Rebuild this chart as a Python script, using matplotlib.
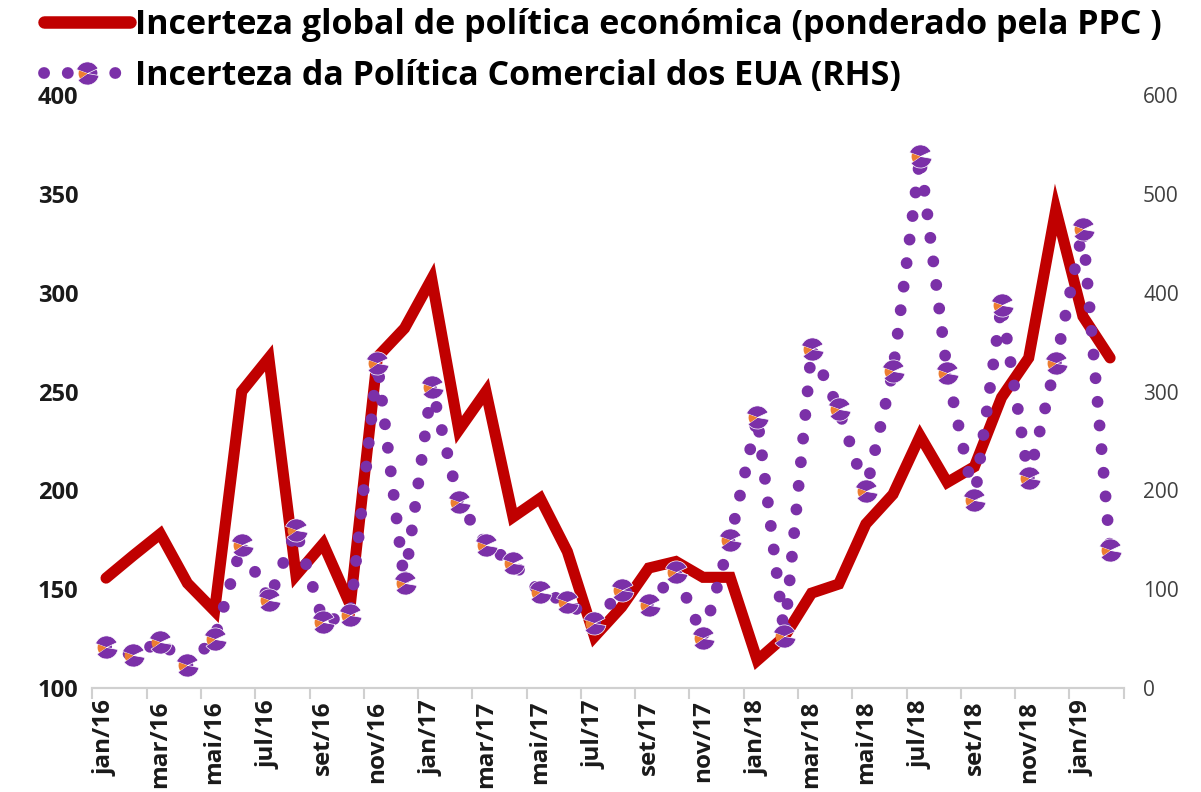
import numpy as np
import matplotlib.pyplot as plt
from matplotlib.path import Path
from matplotlib.legend_handler import HandlerTuple

# meses jan/16 .. fev/19
meses = ['jan', 'fev', 'mar', 'abr', 'mai', 'jun', 'jul', 'ago', 'set', 'out', 'nov', 'dez']
labels = [f'{m}/{a}' for a in ['16', '17', '18', '19'] for m in meses][:38]

# Incerteza global de política económica (eixo esquerdo)
gepu = [155.6, 167, 178, 153, 139, 250, 267, 157, 173, 142, 267.5, 282,
        307, 230.5, 250, 186.5, 196, 169, 126, 141, 160.7, 164, 156, 156,
        114, 126, 148, 152.6, 183, 198, 227.5, 204, 212, 247, 267, 342,
        288, 267]

# Incerteza da Política Comercial dos EUA (eixo direito)
tpu = [42, 33, 47, 23, 50, 145, 89, 160, 67, 74, 329, 106,
       305, 188, 145, 126, 97, 87, 66, 99, 84, 117, 51, 150,
       274, 53, 343, 282, 199, 321, 538, 319, 190, 388, 212, 329,
       464, 140]

nome1 = 'Incerteza global de política económica (ponderado pela PPC )'
nome2 = 'Incerteza da Política Comercial dos EUA (RHS)'

red = '#C00000'
purple = '#7B30A8'
orange = '#ED7D31'
fonte = ['Open Sans', 'DejaVu Sans']
plt.rcParams['font.family'] = fonte

x = np.arange(len(labels))

fig = plt.figure(figsize=(12.01, 7.92), dpi=100)
ax = fig.add_axes([0.077, 0.1313, 0.8586, 0.7487])
ax2 = ax.twinx()

ax.plot(x, gepu, color=red, lw=8, solid_joinstyle='miter', solid_capstyle='round', zorder=2)

# marcador "pizza" roxo + pedaço laranja
m_roxo = Path.make_compound_path(Path.wedge(25, 160), Path.wedge(215, 350))
m_lar = Path.wedge(160, 215)
pontilhado = (0, (0.01, 2.0))

ax2.plot(x, tpu, color=purple, lw=8.5, linestyle=pontilhado,
         dash_capstyle='round', zorder=3)
ax2.plot(x, tpu, linestyle='none', marker=m_roxo, ms=17, mfc=purple,
         mec='white', mew=0.5, zorder=4)
ax2.plot(x, tpu, linestyle='none', marker=m_lar, ms=13, mfc=orange,
         mec='none', zorder=5)

ax.set_xlim(-0.5, len(labels) - 0.5)
ax.set_ylim(100, 400)
ax2.set_ylim(0, 600)
ax.set_yticks(np.arange(100, 401, 50))
ax2.set_yticks(np.arange(0, 601, 100))

ax.set_xticks(x[::2])
ax.set_xticklabels(labels[::2], rotation=90, fontsize=17.5, fontweight='bold', color='#1a1a1a')
ax.set_xticks(np.arange(-0.5, len(labels), 2), minor=True)
ax.tick_params(axis='x', which='major', length=0, pad=9)
ax.tick_params(axis='x', which='minor', length=8, color='#d0d0d0', width=1.5)

for lab in ax.get_yticklabels():
    lab.set_fontweight('bold')
ax.tick_params(axis='y', length=0, pad=10, labelsize=17, labelcolor='#1a1a1a')
ax2.tick_params(axis='y', length=0, pad=14, labelsize=15, labelcolor='#404040')

for a in (ax, ax2):
    for s in ('top', 'left', 'right'):
        a.spines[s].set_visible(False)
    a.spines['bottom'].set_color('#d0d0d0')
    a.spines['bottom'].set_linewidth(1.5)

# legenda
h1 = plt.Line2D([], [], color=red, lw=9, solid_capstyle='round')
h2a = plt.Line2D([], [], color=purple, lw=8.5, linestyle=pontilhado,
                 dash_capstyle='round', marker=m_roxo, ms=17, mfc=purple, mec='white', mew=0.5)
h2b = plt.Line2D([], [], linestyle='none', marker=m_lar, ms=13, mfc=orange, mec='none')
fig.legend([h1, (h2a, h2b)], [nome1, nome2], loc='upper left',
           bbox_to_anchor=(0.037, 0.99), frameon=False, handlelength=2.5,
           handletextpad=0.15, labelspacing=0.5, borderaxespad=0, borderpad=0,
           handler_map={tuple: HandlerTuple(ndivide=1)},
           prop={'family': fonte, 'weight': 'bold', 'size': 24.5})

fig.savefig('out.png', dpi=100)
